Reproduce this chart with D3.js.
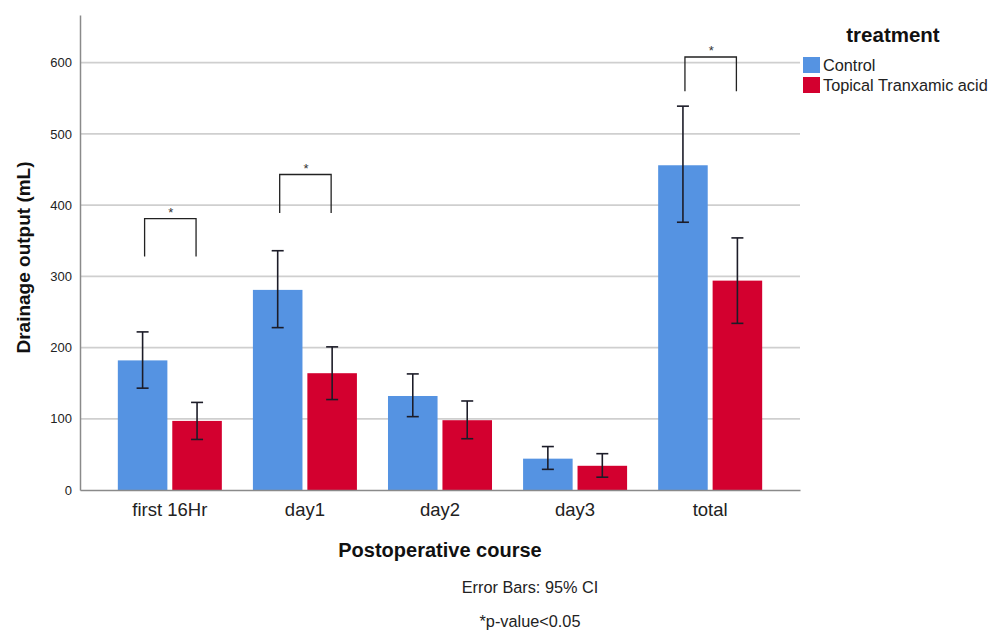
<!DOCTYPE html>
<head>
<meta charset="utf-8">
<style>
  body { margin: 0; background: #fff; }
  svg { font-family: Arial, "Liberation Sans", sans-serif; }
</style>
</head>
<body>
<svg width="994" height="632"></svg>
<script src="https://d3js.org/d3.v7.min.js"></script>
<script>

var categories = ["first 16Hr", "day1", "day2", "day3", "total"];
var seriesNames = ["Control", "Topical Tranxamic acid"];
var seriesColors = ["#5593e2", "#d3002f"];

var controlMean = [182, 281, 132, 44, 456];
var controlLow  = [143, 228, 103, 29, 376];
var controlHigh = [222, 336, 163, 61, 539];

var tranMean = [97, 164, 98, 34, 294];
var tranLow  = [71, 127, 72, 18, 234];
var tranHigh = [123, 201, 125, 51, 354];

var yTicks = [0, 100, 200, 300, 400, 500, 600];

// significance brackets: category, bracket top, leg bottom
var sigCats = ["first 16Hr", "day1", "total"];
var sigTop = [381, 443, 608];
var sigBottom = [328, 389, 560];

var svg = d3.select("svg");

var plotLeft = 80, plotRight = 800, plotTop = 15, plotBottom = 490;

var x = d3.scaleBand()
    .domain(categories)
    .range([plotLeft, plotRight])
    .paddingInner(0.23)
    .paddingOuter(0.28);

var xSub = d3.scaleBand()
    .domain(seriesNames)
    .range([0, x.bandwidth()])
    .paddingInner(0.09);

var y = d3.scaleLinear()
    .domain([0, 667])
    .range([plotBottom, plotTop]);

// gridlines
svg.append("g")
  .selectAll("line")
  .data(yTicks.slice(1))
  .enter().append("line")
    .attr("x1", plotLeft)
    .attr("x2", plotRight)
    .attr("y1", function(d) { return y(d); })
    .attr("y2", function(d) { return y(d); })
    .attr("stroke", "#cfcfcf")
    .attr("stroke-width", 1.8);

// y axis
var yAxis = svg.append("g")
    .attr("transform", "translate(" + plotLeft + ",0)")
    .call(d3.axisLeft(y).tickValues(yTicks).tickSize(0).tickPadding(8));
yAxis.select(".domain").attr("stroke", "#8a8a8a").attr("stroke-width", 1.5);
yAxis.selectAll("text").attr("font-size", 13).attr("fill", "#222")
    .attr("font-family", "Arial, 'Liberation Sans', sans-serif");

// bars
var rows = categories.map(function(c, i) {
  return [
    { cat: c, s: seriesNames[0], mean: controlMean[i], lo: controlLow[i], hi: controlHigh[i], color: seriesColors[0] },
    { cat: c, s: seriesNames[1], mean: tranMean[i], lo: tranLow[i], hi: tranHigh[i], color: seriesColors[1] }
  ];
});
var flat = [].concat.apply([], rows);

svg.append("g")
  .selectAll("rect")
  .data(flat)
  .enter().append("rect")
    .attr("x", function(d) { return x(d.cat) + xSub(d.s); })
    .attr("y", function(d) { return y(d.mean); })
    .attr("width", xSub.bandwidth())
    .attr("height", function(d) { return y(0) - y(d.mean); })
    .attr("fill", function(d) { return d.color; });

// error bars
var err = svg.append("g")
    .attr("stroke", "#1c1c28")
    .attr("stroke-width", 1.6)
  .selectAll("g")
  .data(flat)
  .enter().append("g")
    .attr("transform", function(d) { return "translate(" + (x(d.cat) + xSub(d.s) + xSub.bandwidth() / 2) + ",0)"; });

err.append("line")
    .attr("y1", function(d) { return y(d.lo); })
    .attr("y2", function(d) { return y(d.hi); });
err.append("line")
    .attr("x1", -6).attr("x2", 6)
    .attr("y1", function(d) { return y(d.hi); })
    .attr("y2", function(d) { return y(d.hi); });
err.append("line")
    .attr("x1", -6).attr("x2", 6)
    .attr("y1", function(d) { return y(d.lo); })
    .attr("y2", function(d) { return y(d.lo); });

// x axis
var xAxis = svg.append("g")
    .attr("transform", "translate(0," + plotBottom + ")")
    .call(d3.axisBottom(x).tickSize(0).tickPadding(13).tickSizeOuter(0));
xAxis.select(".domain").attr("stroke", "#8a8a8a").attr("stroke-width", 1.5);
xAxis.selectAll("text").attr("font-size", 18.5).attr("fill", "#222")
    .attr("font-family", "Arial, 'Liberation Sans', sans-serif");

// significance brackets
var sig = svg.append("g")
  .selectAll("g")
  .data(sigCats)
  .enter().append("g");

sig.append("path")
    .attr("fill", "none")
    .attr("stroke", "#222")
    .attr("stroke-width", 1.3)
    .attr("d", function(c, i) {
      var x0 = x(c) + xSub(seriesNames[0]) + xSub.bandwidth() / 2 + 2,
          x1 = x(c) + xSub(seriesNames[1]) + xSub.bandwidth() / 2 - 1;
      return "M" + x0 + "," + y(sigBottom[i]) + "V" + y(sigTop[i]) + "H" + x1 + "V" + y(sigBottom[i]);
    });

sig.append("text")
    .attr("x", function(c) { return x(c) + x.bandwidth() / 2 + 1; })
    .attr("y", function(c, i) { return y(sigTop[i]) - 2; })
    .attr("text-anchor", "middle")
    .attr("font-size", 13)
    .attr("fill", "#333")
    .text("*");

// axis titles
svg.append("text")
    .attr("transform", "translate(30," + ((plotTop + plotBottom) / 2 + 5) + ") rotate(-90)")
    .attr("text-anchor", "middle")
    .attr("font-size", 19)
    .attr("font-weight", "bold")
    .attr("fill", "#111")
    .text("Drainage output (mL)");

svg.append("text")
    .attr("x", 440)
    .attr("y", 557)
    .attr("text-anchor", "middle")
    .attr("font-size", 20)
    .attr("font-weight", "bold")
    .attr("fill", "#111")
    .text("Postoperative course");

// legend
var legend = svg.append("g");
legend.append("text")
    .attr("x", 893)
    .attr("y", 42)
    .attr("text-anchor", "middle")
    .attr("font-size", 20.5)
    .attr("font-weight", "bold")
    .attr("fill", "#111")
    .text("treatment");

var item = legend.selectAll("g")
  .data(seriesNames)
  .enter().append("g")
    .attr("transform", function(d, i) { return "translate(803," + (57 + i * 20) + ")"; });
item.append("rect")
    .attr("width", 17)
    .attr("height", 16)
    .attr("fill", function(d, i) { return seriesColors[i]; });
item.append("text")
    .attr("x", 20)
    .attr("y", 14)
    .attr("font-size", 16.3)
    .attr("fill", "#222")
    .text(function(d) { return d; });

// footnotes
svg.append("text")
    .attr("x", 530)
    .attr("y", 593)
    .attr("text-anchor", "middle")
    .attr("font-size", 16.3)
    .attr("fill", "#222")
    .text("Error Bars: 95% CI");

svg.append("text")
    .attr("x", 530)
    .attr("y", 627)
    .attr("text-anchor", "middle")
    .attr("font-size", 16.3)
    .attr("fill", "#222")
    .text("*p-value<0.05");

</script>
</body>
